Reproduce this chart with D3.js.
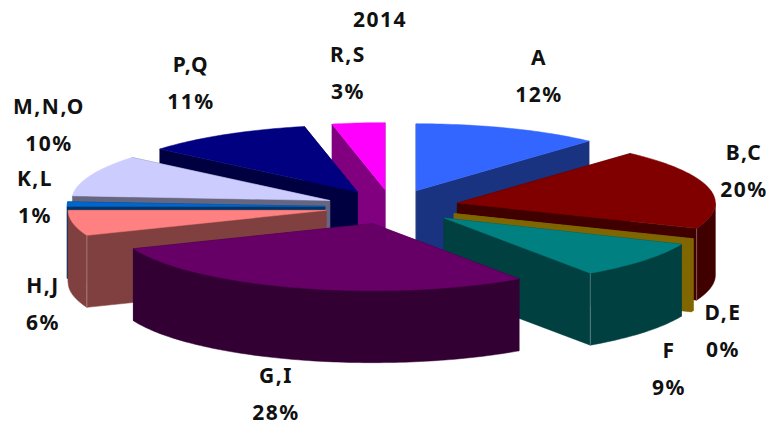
<!DOCTYPE html>
<html><head><meta charset="utf-8">
<script src="https://cdn.jsdelivr.net/npm/d3@7"></script>
<style>html,body{margin:0;background:#fff}svg{display:block}
text{font-family:"Noto Sans",sans-serif;font-weight:700;font-size:21px;letter-spacing:1.5px;fill:#111;text-anchor:middle}</style>
</head><body><svg id="c" width="768" height="426"></svg>
<script>
// data
const title = "2014";
const categories = ["A","B,C","D,E","F","G,I","H,J","K,L","M,N,O","P,Q","R,S"];
const shares     = [11.7, 19.4, 0.3, 9.0, 28.5, 6.1, 1.1, 10.0, 10.6, 3.3];
const percentLabels = ["12%","20%","0%","9%","28%","6%","1%","10%","11%","3%"];

// style + layout (kept apart from the data)
const topColors  = ["#3366FF","#800000","#806600","#008080","#660066","#FF8080","#0066CC","#CCCCFF","#000080","#FF00FF"];
const sideColors = ["#1A3380","#400000","#806600","#004040","#330033","#804040","#003366","#666680","#000040","#800080"];
const paintOrder = [9,0,8,7,6,1,2,5,3,4];
const labelAnchors = [[539,65],[744,160],[723,320],[669,358],[276,383],[43,293],[35,186],[49,114],[191,72],[348,62]];
const labelGap = 37;

const svg = d3.select("#c");
const cx = 392, cy = 207, rx = 258, ry = 67, depth = 72, explode = 0.26;
const x = d3.scaleLinear().domain([-1,1]).range([cx-rx, cx+rx]);
const y = d3.scaleLinear().domain([-1,1]).range([cy-ry, cy+ry]);
const dz = d3.scaleLinear().domain([0,1]).range([0,depth]);
const line = d3.line().x(d=>d[0]).y(d=>d[1]);

const arcs = d3.pie().sort(null).value(d=>d)(shares);

function point(a, r, o){ // a clockwise from 12 o'clock
  return [ x(o[0] + r*Math.sin(a)), y(o[1] - r*Math.cos(a)) ];
}
function rimPts(a0, a1, o){
  const n = Math.max(2, Math.ceil((a1-a0)/0.02));
  return d3.range(n+1).map(i => point(a0+(a1-a0)*i/n, 1, o));
}
const down = (p, h=1) => [p[0], p[1]+dz(h)];

const order = paintOrder.map(i => ({d:arcs[i], i}));
const g = svg.selectAll("g.slice").data(order).join("g").attr("class","slice");
g.each(function({d,i}){
  const sel = d3.select(this);
  const m = (d.startAngle+d.endAngle)/2;
  const o = [explode*Math.sin(m), -explode*Math.cos(m)];
  const apex = point(0,0,o);
  const rim = rimPts(d.startAngle,d.endAngle,o);
  const first = rim[0], last = rim[rim.length-1];
  const side = sideColors[i];
  // radial walls
  [first,last].forEach(p=>{
    sel.append("path").attr("d", line([apex,p,down(p),down(apex)])+"Z")
      .attr("fill",side).attr("stroke",side).attr("stroke-width",0.5);
  });
  // front part of the rim
  const a0 = Math.max(d.startAngle, Math.PI/2), a1 = Math.min(d.endAngle, 3*Math.PI/2);
  if (a1 > a0) {
    const f = rimPts(a0,a1,o);
    sel.append("path").attr("d", line(f.concat(f.map(p=>down(p)).reverse()))+"Z")
      .attr("fill",side).attr("stroke",side).attr("stroke-width",0.5);
  }
  // faint highlight where a radial wall meets the rim at the front
  const corner = (d.endAngle>Math.PI/2 && d.endAngle<Math.PI) ? last
               : (d.startAngle>Math.PI && d.startAngle<1.5*Math.PI) ? first : null;
  if (corner && shares[i] > 1) {
    sel.append("path").attr("d", line([corner,down(corner)]))
      .attr("stroke","rgba(255,255,255,0.3)").attr("fill","none");
  }
  // top
  sel.append("path").attr("d", line([apex].concat(rim))+"Z")
    .attr("fill",topColors[i]).attr("stroke",topColors[i]).attr("stroke-width",0.5);
});

// labels
svg.append("text").attr("x",380).attr("y",27).text(title);
const lab = svg.selectAll("g.lab").data(categories).join("g").attr("class","lab")
  .attr("transform",(d,i)=>`translate(${labelAnchors[i]})`);
lab.append("text").text(d=>d);
lab.append("text").attr("y",labelGap).text((d,i)=>percentLabels[i]);
</script></body></html>
